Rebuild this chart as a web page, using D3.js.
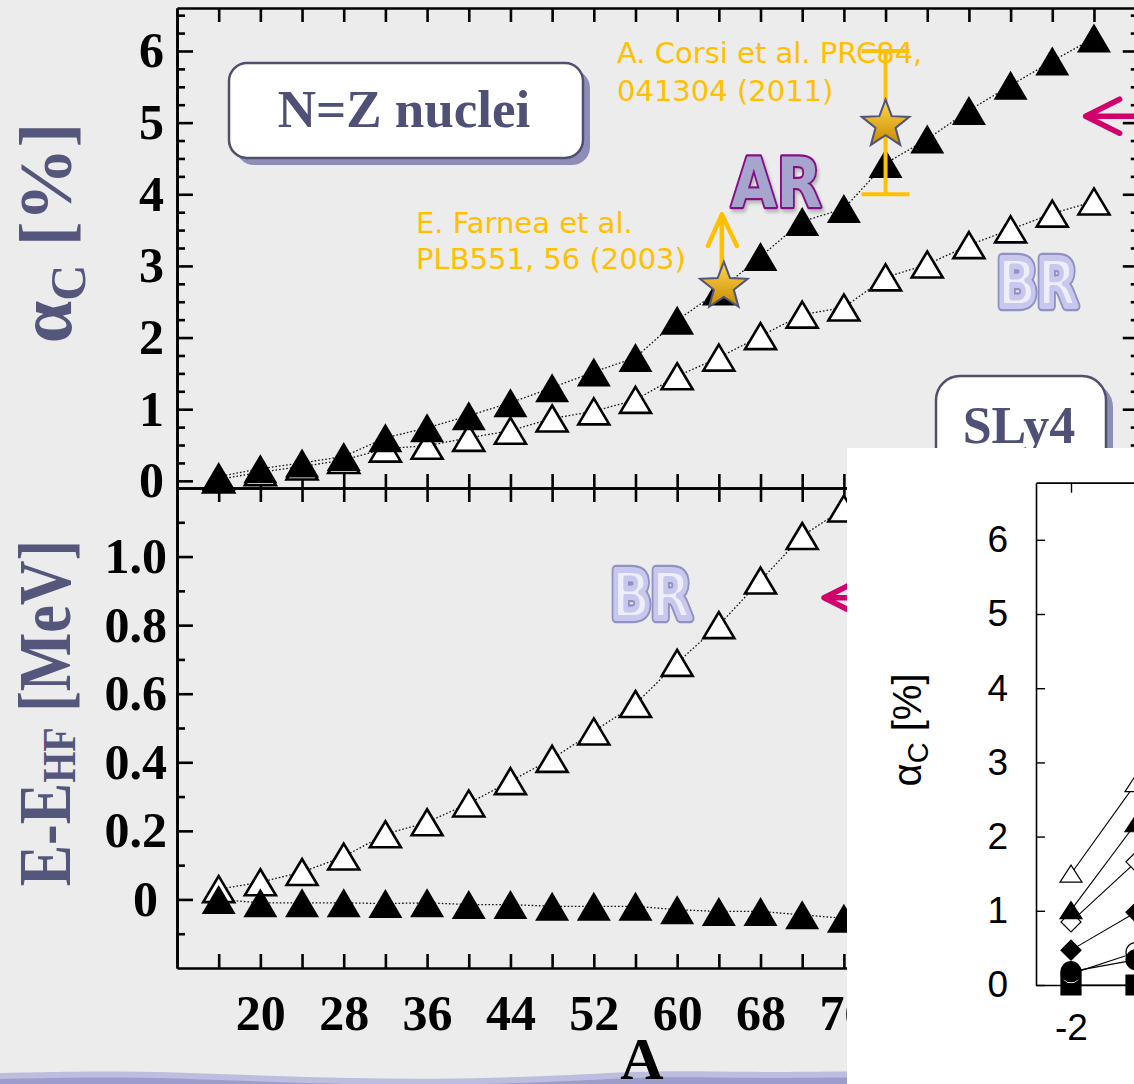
<!DOCTYPE html>
<html>
<head>
<meta charset="utf-8">
<script src="https://cdn.jsdelivr.net/npm/d3@7/dist/d3.min.js"></script>
<style>
  body { margin: 0; background: #ececec; }
  svg { display: block; }
</style>
</head>
<body>
<div id="chart"></div>
<script>
// ---- data ----
const massNumbers = [16, 20, 24, 28, 32, 36, 40, 44, 48, 52, 56, 60, 64, 68, 72, 76, 80, 84, 88, 92, 96, 100];
const alphaAR = [0.06, 0.17, 0.25, 0.34, 0.60, 0.74, 0.91, 1.09, 1.30, 1.52, 1.72, 2.24, 2.65, 3.13, 3.62, 3.80, 4.43, 4.77, 5.17, 5.52, 5.86, 6.18];
const alphaBR = [0.02, 0.12, 0.20, 0.29, 0.45, 0.49, 0.60, 0.70, 0.87, 0.97, 1.13, 1.46, 1.72, 2.02, 2.32, 2.42, 2.84, 3.02, 3.29, 3.51, 3.73, 3.90];

const energyMass = [16, 20, 24, 28, 32, 36, 40, 44, 48, 52, 56, 60, 64, 68, 72, 76];
const energyBR = [0.03, 0.05, 0.08, 0.125, 0.19, 0.225, 0.28, 0.345, 0.41, 0.49, 0.57, 0.69, 0.80, 0.93, 1.06, 1.14];
const energyAR = [0.0, -0.01, -0.01, -0.01, -0.012, -0.01, -0.015, -0.015, -0.02, -0.02, -0.02, -0.03, -0.035, -0.035, -0.045, -0.055];

// experiments: Farnea (lower limit) and Corsi (with error bar)
const expMass = [64, 80];
const expAlpha = [2.74, 5.0];
const expError = [0, 1.0];

const massTicks = d3.range(16, 105, 4);
const massLabels = [20, 28, 36, 44, 52, 60, 68, 76];   // the rest sit under the inset
const alphaTicks = [0, 1, 2, 3, 4, 5, 6];
const alphaMinor = d3.range(0, 6.6, 0.25).filter(v => v % 1 !== 0);
const energyTicks = [0, 0.2, 0.4, 0.6, 0.8, 1.0];
const energyMinor = [-0.1, 0.1, 0.3, 0.5, 0.7, 0.9, 1.1];

// inset (SLy4)
const insetX = [-2, -1];
const insetOpenTri = [1.50, 2.72];
const insetFullTri = [1.01, 2.18];
const insetOpenDia = [0.85, 1.66];
const insetFullDia = [0.47, 0.98];
const insetOpenCirc = [0.15, 0.44];
const insetFullCirc = [0.18, 0.34];
const insetSquare = [0.0, 0.0];
const insetYTicks = [0, 1, 2, 3, 4, 5, 6];

// ---- setup ----
const W = 1134, H = 1084;
const serif = "'Liberation Serif', 'Times New Roman', serif";
const sans = "'DejaVu Sans', sans-serif";
const slate = "#54567b";

const svg = d3.select("#chart").append("svg")
    .attr("width", W).attr("height", H);

const defs = svg.append("defs");
const grad = defs.append("linearGradient").attr("id", "gold")
    .attr("x1", 0).attr("y1", 0).attr("x2", 0).attr("y2", 1);
grad.append("stop").attr("offset", "0%").attr("stop-color", "#ffd84f");
grad.append("stop").attr("offset", "100%").attr("stop-color", "#c98a00");
defs.append("filter").attr("id", "shade").attr("x", "-10%").attr("y", "-10%").attr("width", "130%").attr("height", "130%")
  .append("feDropShadow").attr("dx", 2).attr("dy", 3).attr("stdDeviation", 1.5)
    .attr("flood-color", "#888").attr("flood-opacity", 0.5);

svg.append("rect").attr("width", W).attr("height", H).attr("fill", "#ececec");

// slide decoration band at the bottom
const bandPts = [[0, 1073], [140, 1070], [280, 1077], [440, 1080], [580, 1075], [660, 1070], [780, 1073], [900, 1070], [1134, 1072]];
const band = d3.area().curve(d3.curveBasis).x(d => d[0]).y0(H + 2);
svg.append("path").attr("d", band.y1(d => d[1])(bandPts)).attr("fill", "#bdbde0");
svg.append("path").attr("d", band.y1(d => d[1] + 6)(bandPts)).attr("fill", "#9d9dcb");

// ---- scales ----
const x = d3.scaleLinear().domain([12, 104.3]).range([177, 177 + 92.3 * 10.42]);
const yTop = d3.scaleLinear().domain([-0.1, 6.6]).range([488, 8]);
const yBot = d3.scaleLinear().domain([-0.2, 1.2]).range([968, 488]);

const chart = svg.append("g");

function styleAxis(g, size) {
  g.attr("font-family", serif).attr("font-size", size).attr("font-weight", "bold");
  g.selectAll("path.domain").attr("stroke", "#000").attr("stroke-width", 2.6);
  g.selectAll(".tick line").attr("stroke", "#000").attr("stroke-width", 2.6);
  g.selectAll("text").attr("fill", "#000");
}

const xLeft = x.range()[0], xRight = x.range()[1];

// top panel frame
chart.append("g").attr("transform", `translate(${xLeft},0)`)
    .call(d3.axisLeft(yTop).tickValues(alphaTicks).tickSize(-16).tickSizeOuter(0).tickPadding(13).tickFormat(d3.format("d")))
    .call(g => styleAxis(g, 50));
chart.append("g").attr("transform", `translate(${xLeft},0)`)
    .call(d3.axisLeft(yTop).tickValues(alphaMinor).tickSize(-8).tickSizeOuter(0).tickFormat(""))
    .call(g => styleAxis(g, 10));
chart.append("g").attr("transform", `translate(${xRight},0)`)
    .call(d3.axisRight(yTop).tickValues(alphaTicks).tickSize(-16).tickSizeOuter(0).tickFormat(""))
    .call(g => styleAxis(g, 10));
chart.append("g").attr("transform", `translate(${xRight},0)`)
    .call(d3.axisRight(yTop).tickValues(alphaMinor).tickSize(-8).tickSizeOuter(0).tickFormat(""))
    .call(g => styleAxis(g, 10));
chart.append("g").attr("transform", `translate(0,${yTop.range()[1]})`)
    .call(d3.axisTop(x).tickValues(massTicks).tickSize(-14).tickSizeOuter(0).tickFormat(""))
    .call(g => styleAxis(g, 10));
chart.append("g").attr("transform", `translate(0,${yTop.range()[0]})`)
    .call(d3.axisBottom(x).tickValues(massTicks).tickSize(-14).tickSizeOuter(0).tickFormat(""))
    .call(g => styleAxis(g, 10));

// bottom panel frame
chart.append("g").attr("transform", `translate(${xLeft},0)`)
    .call(d3.axisLeft(yBot).tickValues(energyTicks).tickSize(-16).tickSizeOuter(0).tickPadding(10)
      .tickFormat(d => d === 0 ? "0" : d.toFixed(1)))
    .call(g => styleAxis(g, 50))
    .call(g => g.selectAll(".tick text").filter(d => d === 0).attr("x", -19));
chart.append("g").attr("transform", `translate(${xLeft},0)`)
    .call(d3.axisLeft(yBot).tickValues(energyMinor).tickSize(-8).tickSizeOuter(0).tickFormat(""))
    .call(g => styleAxis(g, 10));
chart.append("g").attr("transform", `translate(${xRight},0)`)
    .call(d3.axisRight(yBot).tickValues(energyTicks).tickSize(-16).tickSizeOuter(0).tickFormat(""))
    .call(g => styleAxis(g, 10));
chart.append("g").attr("transform", `translate(${xRight},0)`)
    .call(d3.axisRight(yBot).tickValues(energyMinor).tickSize(-8).tickSizeOuter(0).tickFormat(""))
    .call(g => styleAxis(g, 10));
chart.append("g").attr("transform", `translate(0,${yBot.range()[1]})`)
    .call(d3.axisTop(x).tickValues(massTicks).tickSize(-14).tickSizeOuter(0).tickFormat(""))
    .call(g => styleAxis(g, 10));
chart.append("g").attr("transform", `translate(0,${yBot.range()[0]})`)
    .call(d3.axisBottom(x).tickValues(massTicks).tickSize(-14).tickSizeOuter(0).tickPadding(26)
      .tickFormat(d => massLabels.includes(d) ? d : ""))
    .call(g => styleAxis(g, 50));

// axis titles
function subLabel(g, parts) {
  const t = g.append("text").attr("text-anchor", "middle").attr("font-family", serif)
      .attr("font-weight", "bold").attr("fill", slate);
  parts.forEach(p => t.append("tspan").attr("font-size", p.size).attr("dy", p.dy || 0).text(p.text));
  return t;
}
subLabel(chart.append("g").attr("transform", "translate(71,233) rotate(-90)"),
  [{text: "\u03b1", size: 76}, {text: "C", size: 50, dy: 14}, {text: " [%]", size: 74, dy: -14}]);
subLabel(chart.append("g").attr("transform", "translate(70,713) rotate(-90) scale(1,1.18)"),
  [{text: "E-E", size: 62}, {text: "HF", size: 40, dy: 4}, {text: " [MeV]", size: 62, dy: -4}]);
chart.append("text").attr("x", 642).attr("y", 1079).attr("text-anchor", "middle")
    .attr("font-family", serif).attr("font-weight", "bold").attr("font-size", 60).text("A");

// ---- series ----
function triPath(w, h) {
  return `M0,${-h / 2}L${w / 2},${h / 2}L${-w / 2},${h / 2}Z`;
}
const line = (xs, ys, sx, sy) => d3.line().x((d, i) => sx(xs[i])).y(d => sy(d))(ys);

function dotted(g, xs, ys, sy) {
  g.append("path").attr("d", line(xs, ys, x, sy)).attr("fill", "none")
      .attr("stroke", "#111").attr("stroke-width", 1.3).attr("stroke-dasharray", "1.6 2");
}
function triangles(g, xs, ys, sy, filled) {
  g.selectAll(null).data(ys).enter().append("path")
      .attr("d", filled ? triPath(34, 29) : triPath(31, 26))
      .attr("transform", (d, i) => `translate(${x(xs[i])},${sy(d)})`)
      .attr("fill", filled ? "#000" : "#fff")
      .attr("stroke", "#000").attr("stroke-width", filled ? 0 : 2.6).attr("stroke-linejoin", "miter");
}

const series = chart.append("g");
dotted(series, massNumbers, alphaBR, yTop);
dotted(series, massNumbers, alphaAR, yTop);
triangles(series, massNumbers, alphaBR, yTop, false);
triangles(series, massNumbers, alphaAR, yTop, true);
dotted(series, energyMass, energyBR, yBot);
dotted(series, energyMass, energyAR, yBot);
triangles(series, energyMass, energyBR, yBot, false);
triangles(series, energyMass, energyAR, yBot, true);

// ---- annotations ----
const gold = "#ffc000";
const ann = svg.append("g");

// N=Z nuclei box
ann.append("rect").attr("x", 236).attr("y", 70).attr("width", 354).attr("height", 95).attr("rx", 18)
    .attr("fill", "#8d8db8");
ann.append("rect").attr("x", 229).attr("y", 63).attr("width", 354).attr("height", 95).attr("rx", 18)
    .attr("fill", "#fff").attr("stroke", "#50506e").attr("stroke-width", 2.5);
ann.append("text").attr("x", 404).attr("y", 127).attr("text-anchor", "middle")
    .attr("font-family", serif).attr("font-weight", "bold").attr("font-size", 53).attr("fill", "#4f5075")
    .text("N=Z nuclei");

// references
ann.append("text").attr("font-family", sans).attr("font-size", 29).attr("fill", gold)
  .selectAll("tspan").data(["A. Corsi et al. PRC84,", "041304 (2011)"]).enter().append("tspan")
    .attr("x", 617).attr("y", (d, i) => 63 + i * 38).text(d => d);
ann.append("text").attr("font-family", sans).attr("font-size", 29).attr("fill", gold)
  .selectAll("tspan").data(["E. Farnea et al.", "PLB551, 56 (2003)"]).enter().append("tspan")
    .attr("x", 416).attr("y", (d, i) => 233 + i * 36).text(d => d);

// Corsi error bar
const ex = x(expMass[1]);
ann.append("path")
    .attr("d", `M${ex},${yTop(expAlpha[1] + expError[1])}V${yTop(expAlpha[1] - expError[1])}` +
      `M${ex - 24},${yTop(expAlpha[1] - expError[1])}H${ex + 24}` +
      `M${ex - 24},${yTop(expAlpha[1] + expError[1])}H${ex + 24}`)
    .attr("stroke", gold).attr("stroke-width", 4).attr("fill", "none");

// Farnea lower limit arrow
const fx = x(expMass[0]) + 3;
ann.append("path")
    .attr("d", `M${fx},${yTop(expAlpha[0]) - 14}V${yTop(3.72)}` +
      `M${fx - 14},${yTop(3.28)}L${fx},${yTop(3.72)}L${fx + 15},${yTop(3.28)}`)
    .attr("stroke", gold).attr("stroke-width", 4.5).attr("fill", "none")
    .attr("stroke-linecap", "round").attr("stroke-linejoin", "round");

// stars
function starPath(ro, ri) {
  const pts = d3.range(10).map(i => {
    const a = -Math.PI / 2 + i * Math.PI / 5, r = i % 2 ? ri : ro;
    return [r * Math.cos(a), r * Math.sin(a)];
  });
  return "M" + pts.join("L") + "Z";
}
ann.selectAll(null).data(expAlpha).enter().append("path")
    .attr("d", starPath(25, 10.5))
    .attr("transform", (d, i) => `translate(${x(expMass[i]) + (i === 0 ? 5 : 0)},${yTop(d) + 2})`)
    .attr("fill", "url(#gold)").attr("stroke", "#4f5478").attr("stroke-width", 2).attr("stroke-linejoin", "miter");

// AR / BR bubble labels
function bubbleAR(px, py, size) {
  ann.append("g").attr("transform", `translate(${px},${py}) scale(0.95,1.12)`)
    .append("text").text("AR")
      .attr("font-family", sans).attr("font-weight", "bold").attr("font-size", size)
      .attr("fill", "#a5a5cd").attr("stroke", "#870f87").attr("stroke-width", 4)
      .attr("stroke-linejoin", "round").attr("paint-order", "stroke")
      .attr("filter", "url(#shade)");
}
function bubbleBR(px, py, size) {
  const g = ann.append("g").attr("transform", `translate(${px},${py}) scale(0.92,1.15)`);
  g.append("text").text("BR")
      .attr("font-family", sans).attr("font-weight", "bold").attr("font-size", size)
      .attr("fill", "#eeeefa").attr("stroke", "#9191c2").attr("stroke-width", 9)
      .attr("stroke-linejoin", "round").attr("paint-order", "stroke");
  g.select("text").clone(true).attr("fill", "none").attr("stroke", "#c8c8ef").attr("stroke-width", 5);
}
bubbleAR(731, 207, 62);
bubbleBR(997, 306, 57);
bubbleBR(611, 618, 57);

// magenta arrows
const pink = "#d2006c";
function leftArrow(ax, ay) {
  const px = x(ax), py = ay;
  ann.append("path")
      .attr("d", `M${px + 34},${py - 17}L${px},${py}L${px + 34},${py + 17}M${px},${py}H${px + 70}`)
      .attr("stroke", pink).attr("stroke-width", 5.5).attr("fill", "none")
      .attr("stroke-linecap", "round").attr("stroke-linejoin", "round");
}
leftArrow(99.2, yTop(5.09));
leftArrow(74.1, yBot(0.88));

// SLy4 box
ann.append("rect").attr("x", 943).attr("y", 383).attr("width", 170).attr("height", 110).attr("rx", 24)
    .attr("fill", "#8d8db8");
ann.append("rect").attr("x", 936).attr("y", 376).attr("width", 170).attr("height", 110).attr("rx", 24)
    .attr("fill", "#fff").attr("stroke", "#50506e").attr("stroke-width", 2.5);
ann.append("text").attr("x", 1019).attr("y", 443).attr("text-anchor", "middle")
    .attr("font-family", serif).attr("font-weight", "bold").attr("font-size", 52).attr("fill", "#4f5075")
    .text("SLy4");

// ---- inset ----
const inset = svg.append("g");
inset.append("rect").attr("x", 847).attr("y", 448).attr("width", W - 847).attr("height", H - 448).attr("fill", "#fff");

const xi = d3.scaleLinear().domain([-2, -1]).range([1071, 1136]);
const xiFrame = xi.copy().domain([xi.invert(1036), xi.invert(1140)]).range([1036, 1140]);
const yi = d3.scaleLinear().domain([0, 6.77]).range([985, 985 - 6.77 * 74.2]);
const isans = "'Liberation Sans', Arial, sans-serif";

function styleInset(g) {
  g.attr("font-family", isans).attr("font-size", 37);
  g.selectAll("path.domain").attr("stroke", "#000").attr("stroke-width", 1.6);
  g.selectAll(".tick line").attr("stroke", "#000").attr("stroke-width", 1.4);
  g.selectAll("text").attr("fill", "#000");
}
inset.append("g").attr("transform", "translate(1036,0)")
    .call(d3.axisLeft(yi).tickValues(insetYTicks).tickSize(-9).tickSizeOuter(0).tickPadding(28).tickFormat(d => String(d)))
    .call(styleInset);
inset.append("g").attr("transform", `translate(0,${yi.range()[1]})`)
    .call(d3.axisTop(xiFrame).tickValues([-2]).tickSize(-10).tickSizeOuter(0).tickFormat(""))
    .call(styleInset);
inset.append("g").attr("transform", `translate(0,${yi.range()[0]})`)
    .call(d3.axisBottom(xiFrame).tickValues([-2]).tickSize(-10).tickSizeOuter(0).tickPadding(29).tickFormat(d => String(d)))
    .call(styleInset);
inset.append("text").attr("transform", "translate(921,730) rotate(-90)").attr("text-anchor", "middle")
    .attr("font-family", isans).attr("font-size", 40).attr("fill", "#000")
    .call(t => {
      t.append("tspan").text("\u03b1");
      t.append("tspan").attr("font-size", 29).attr("dy", 7).text("C");
      t.append("tspan").attr("dy", -7).text(" [%]");
    });

const insetSeries = [
  {vals: insetSquare, sym: "square", fill: true},
  {vals: insetOpenCirc, sym: "circle", fill: false},
  {vals: insetFullCirc, sym: "circle", fill: true},
  {vals: insetFullDia, sym: "diamond", fill: true},
  {vals: insetOpenDia, sym: "diamond", fill: false},
  {vals: insetFullTri, sym: "triangle", fill: true},
  {vals: insetOpenTri, sym: "triangle", fill: false}
];
const symPath = {
  square: "M-10,-10H10V10H-10Z",
  circle: d3.symbol(d3.symbolCircle, 314)(),
  diamond: "M0,-10L10,0L0,10L-10,0Z",
  triangle: triPath(22, 17)
};
insetSeries.forEach(s => {
  inset.append("path").attr("d", line(insetX, s.vals, xi, yi))
      .attr("fill", "none").attr("stroke", "#000").attr("stroke-width", 1.1);
});
insetSeries.forEach(s => {
  inset.selectAll(null).data(s.vals).enter().append("path")
      .attr("d", symPath[s.sym])
      .attr("transform", (d, i) => `translate(${xi(insetX[i])},${yi(d)})`)
      .attr("fill", s.fill ? "#000" : "#fff").attr("stroke", "#000").attr("stroke-width", 1.2);
});
</script>
</body>
</html>
